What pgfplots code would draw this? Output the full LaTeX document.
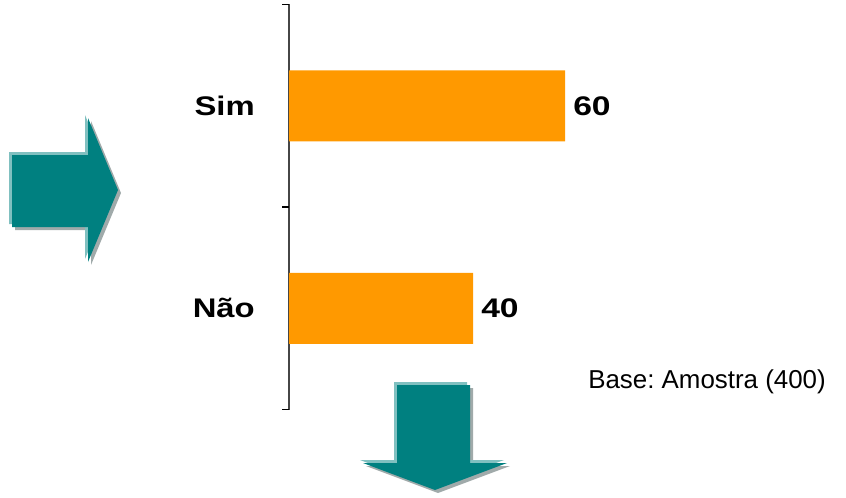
\documentclass[border=0pt]{standalone}
\usepackage{pgfplots}
\pgfplotsset{compat=1.18}
\usepackage{fontspec}
\setmainfont{Liberation Sans}
\frenchspacing
\definecolor{barorange}{RGB}{255,153,0}
\definecolor{tealmain}{RGB}{0,128,128}
\definecolor{teallight}{RGB}{128,192,192}
\definecolor{shadowgrey}{RGB}{160,170,170}
\definecolor{axisgrey}{RGB}{70,70,70}
\begin{document}
\begin{tikzpicture}
\useasboundingbox (0,0) rectangle (846bp,-498bp);
\begin{axis}[
  at={(289bp,-409.5bp)}, anchor=south west,
  scale only axis, width=552bp, height=405bp,
  xbar, bar width=71bp,
  xmin=0, xmax=120, ymin=-0.5, ymax=1.5,
  axis x line=none, axis y line*=left,
  axis line style={axisgrey, line width=1.8bp},
  /pgf/number format/assume math mode=true,
  ytick={0,1}, yticklabels={N\~ao,Sim},
  major tick length=0pt,
  yticklabel style={font=\fontsize{27}{30}\selectfont\bfseries, inner sep=0pt, xshift=-34bp, xscale=1.22, anchor=east},
  extra y ticks={-0.5,0.5,1.5}, extra y tick labels={},
  extra y tick style={major tick length=7bp, tick align=outside, tick style={black, line width=1.2bp}},
  nodes near coords,
  nodes near coords style={font=\fontsize{27}{30}\selectfont\bfseries, inner sep=0pt, anchor=west, xshift=8bp, xscale=1.25},
]
\addplot[fill=barorange, draw=none] coordinates {(40,0) (60,1)};
\end{axis}
\begin{scope}[x=1bp,y=-1bp]
% right arrow
\fill[shadowgrey] ([shift={(3,3)}]12,155) -- ++(76,0) -- ++(0,-37) -- ++(30,72) -- ++(-30,72) -- ++(0,-35) -- ++(-76,0) -- cycle;
\fill[teallight] ([shift={(-3,-3)}]12,155) -- ++(76,0) -- ++(0,-37) -- ++(30,72) -- ++(-30,72) -- ++(0,-35) -- ++(-76,0) -- cycle;
\fill[tealmain] (12,155) -- (88,155) -- (88,118) -- (118,190) -- (88,262) -- (88,227) -- (12,227) -- cycle;
% down arrow
\fill[shadowgrey] ([shift={(3,3)}]397,385) -- ++(73,0) -- ++(0,78) -- ++(37,0) -- ++(-72,27) -- ++(-72,-27) -- ++(34,0) -- cycle;
\fill[teallight] ([shift={(-3,-3)}]397,385) -- ++(73,0) -- ++(0,78) -- ++(37,0) -- ++(-72,27) -- ++(-72,-27) -- ++(34,0) -- cycle;
\fill[tealmain] (397,385) -- (470,385) -- (470,463) -- (507,463) -- (435,490) -- (363,463) -- (397,463) -- cycle;
\node[anchor=base east, inner sep=0pt, font=\fontsize{26}{30}\selectfont] at (826,388) {Base: Amostra (400)};
\end{scope}
\end{tikzpicture}
\end{document}
